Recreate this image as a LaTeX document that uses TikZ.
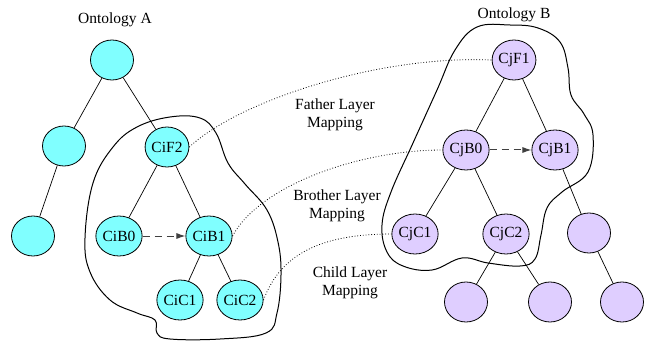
\documentclass[tikz,border=0pt]{standalone}
\usepackage{fontspec}
\setmainfont{Liberation Serif}
\usetikzlibrary{arrows.meta,shapes.geometric}
\definecolor{conA}{RGB}{128,255,255}
\definecolor{conB}{RGB}{223,206,255}
\tikzset{
  concept/.style={ellipse, draw=black, line width=0.8pt, minimum width=43pt,
    minimum height=40pt, inner sep=0pt, font=\fontsize{15.5}{16}\selectfont},
  ca/.style={concept, fill=conA},
  cb/.style={concept, fill=conB},
  edge/.style={line width=0.7pt},
  sibling/.style={line width=1pt, black!75, dash pattern=on 7pt off 5pt,
    -{Latex[length=9pt,width=6pt]}},
  layermap/.style={line width=0.8pt, dotted},
  region/.style={line width=1pt},
  caption/.style={font=\fontsize{15.5}{18}\selectfont, align=center}
}
\begin{document}
\begin{tikzpicture}[x=1pt,y=-1pt]
\useasboundingbox (0,0) rectangle (651,342);

% regions enclosing the mapped sub-trees
\draw[region] plot[smooth cycle, tension=0.65] coordinates {
  (170,117) (200,118) (216,133) (228,163) (245,184) (267,210) (278,242)
  (281,275) (277,313) (266,333) (220,339) (170,339) (157,333) (155,320)
  (137,313) (110,300) (90,272) (85,238) (93,183) (113,147) (137,127)};
\draw[region] plot[smooth cycle, tension=0.65] coordinates {
  (477,27) (510,25) (538,28) (560,42) (568,68) (571,95) (584,114)
  (593,135) (588,172) (562,192) (547,208) (541,235) (535,259) (520,266)
  (488,263) (462,258) (432,270) (403,266) (387,252) (382,225) (391,192)
  (413,143) (437,90) (455,50)};

% Ontology A
\node at (115,20) [caption] {Ontology A};
\node[ca] (a0) at (112,60) {};
\node[ca] (a1) at (64,146) {};
\node[ca] (aF2) at (167,147) {CiF2};
\node[ca] (a2) at (33,236) {};
\node[ca] (aB0) at (119,236) {CiB0};
\node[ca] (aB1) at (209,236) {CiB1};
\node[ca] (aC1) at (180,300) {CiC1};
\node[ca] (aC2) at (240,300) {CiC2};

\draw[edge] (a0) -- (a1);
\draw[edge] (a0) -- (aF2);
\draw[edge] (a1) -- (a2);
\draw[edge] (aF2) -- (aB0);
\draw[edge] (aF2) -- (aB1);
\draw[edge] (aB1) -- (aC1);
\draw[edge] (aB1) -- (aC2);
\draw[sibling] (aB0) -- (aB1);

% Ontology B
\node at (514,15) [caption] {Ontology B};
\node[cb] (bF1) at (514,60) {CjF1};
\node[cb] (bB0) at (466,150) {CjB0};
\node[cb] (bB1) at (555,150) {CjB1};
\node[cb] (bC1) at (415,234) {CjC1};
\node[cb] (bC2) at (506,234) {CjC2};
\node[cb] (b1) at (589,233) {};
\node[cb] (b2) at (466,302) {};
\node[cb] (b3) at (550,302) {};
\node[cb] (b4) at (622,302) {};

\draw[edge] (bF1) -- (bB0);
\draw[edge] (bF1) -- (bB1);
\draw[edge] (bB0) -- (bC1);
\draw[edge] (bB0) -- (bC2);
\draw[edge] (bB1) -- (b1);
\draw[edge] (bC2) -- (b2);
\draw[edge] (bC2) -- (b3);
\draw[edge] (b1) -- (b4);
\draw[sibling] (bB0) -- (bB1);

% layer mappings
\draw[layermap] (aF2.east) .. controls (240,100) and (380,55) .. (bF1.west);
\draw[layermap] (aB1.east) .. controls (260,185) and (360,150) .. (bB0.west);
\draw[layermap] (aC2.east) .. controls (280,255) and (320,234) .. (bC1.west);

\node[caption] (lf) at (335,115) {Father Layer\\Mapping};
\node[caption] (lb) at (337,206) {Brother Layer\\Mapping};
\node[caption] (lc) at (350,283) {Child Layer\\Mapping};
\end{tikzpicture}
\end{document}
